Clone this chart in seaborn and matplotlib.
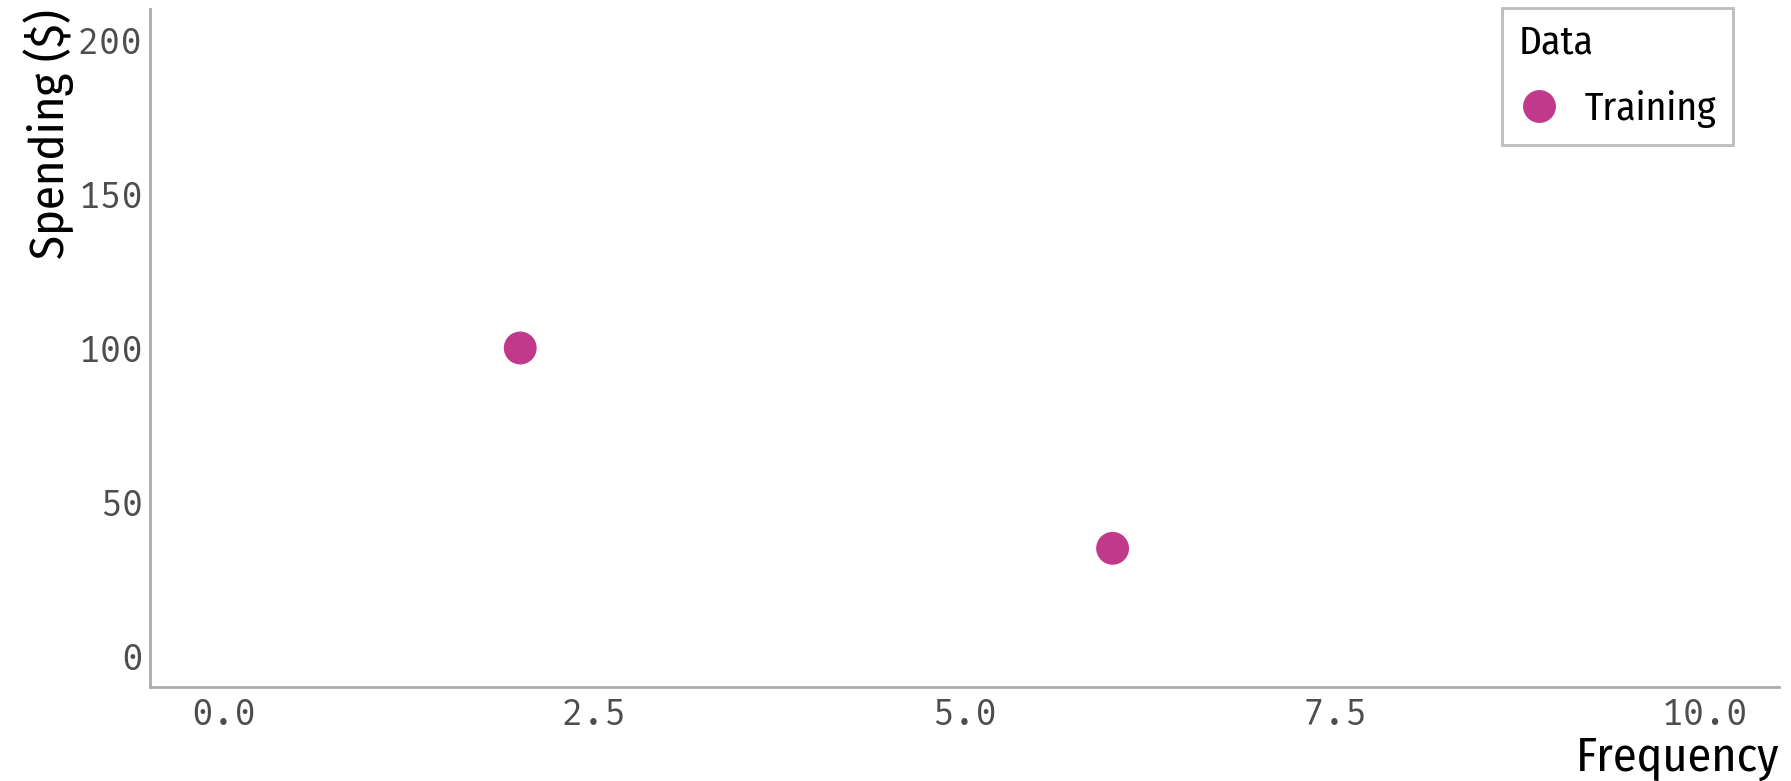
import matplotlib
matplotlib.use("Agg")
import matplotlib.pyplot as plt
import seaborn as sns
import pandas as pd

frequency = [2, 6]
spending = [100, 35]
data_group = ["Training", "Training"]

df = pd.DataFrame({"Frequency": frequency, "Spending": spending, "Data": data_group})

sns.set_style("white")
label_font = ["Fira Sans Condensed", "Roboto Condensed", "Roboto", "DejaVu Sans"]
mono_font = ["Fira Mono", "DejaVu Sans Mono"]

fig = plt.figure(figsize=(17.91, 7.81), dpi=100)
ax = fig.add_axes([150 / 1791, 1 - 687 / 781, (1779 - 150) / 1791, (687 - 9) / 781])

sns.scatterplot(data=df, x="Frequency", y="Spending", hue="Data",
                palette=["#C0398A"], s=560, edgecolor="none", ax=ax)

ax.set_xlim(-0.5, 10.5)
ax.set_ylim(-10, 210)
ax.set_xticks([0, 2.5, 5, 7.5, 10])
ax.set_xticklabels(["0.0", "2.5", "5.0", "7.5", "10.0"])
ax.set_yticks([0, 50, 100, 150, 200])

for side in ["top", "right"]:
    ax.spines[side].set_visible(False)
for side in ["left", "bottom"]:
    ax.spines[side].set_color("#ababab")
    ax.spines[side].set_linewidth(2)

ax.tick_params(axis="both", length=0, labelsize=26, labelcolor="#4d4d4d")
ax.tick_params(axis="y", pad=5)
ax.tick_params(axis="x", pad=7)
for t in ax.get_xticklabels() + ax.get_yticklabels():
    t.set_family(mono_font)

ax.set_xlabel("Frequency", family=label_font, fontsize=34.5, color="black", loc="right", labelpad=2)
ax.set_ylabel("Spending ($)", family=label_font, fontsize=35, color="black", loc="top", labelpad=3)

leg = ax.legend(title="Data", loc="upper right", bbox_to_anchor=(1733 / 1791, 1 - 8 / 781),
                bbox_transform=fig.transFigure, borderaxespad=0, frameon=True, fancybox=False,
                markerscale=1.0, handlelength=1.05, handletextpad=0.62, borderpad=0.42,
                labelspacing=0.72, alignment="left",
                prop={"family": label_font, "size": 28.5})
leg.get_title().set_family(label_font)
leg.get_title().set_fontsize(28.5)
leg.get_title().set_color("black")
for txt in leg.get_texts():
    txt.set_color("black")
leg.get_frame().set_edgecolor("#ababab")
leg.get_frame().set_linewidth(2)

fig.savefig("out.png", dpi=100)
